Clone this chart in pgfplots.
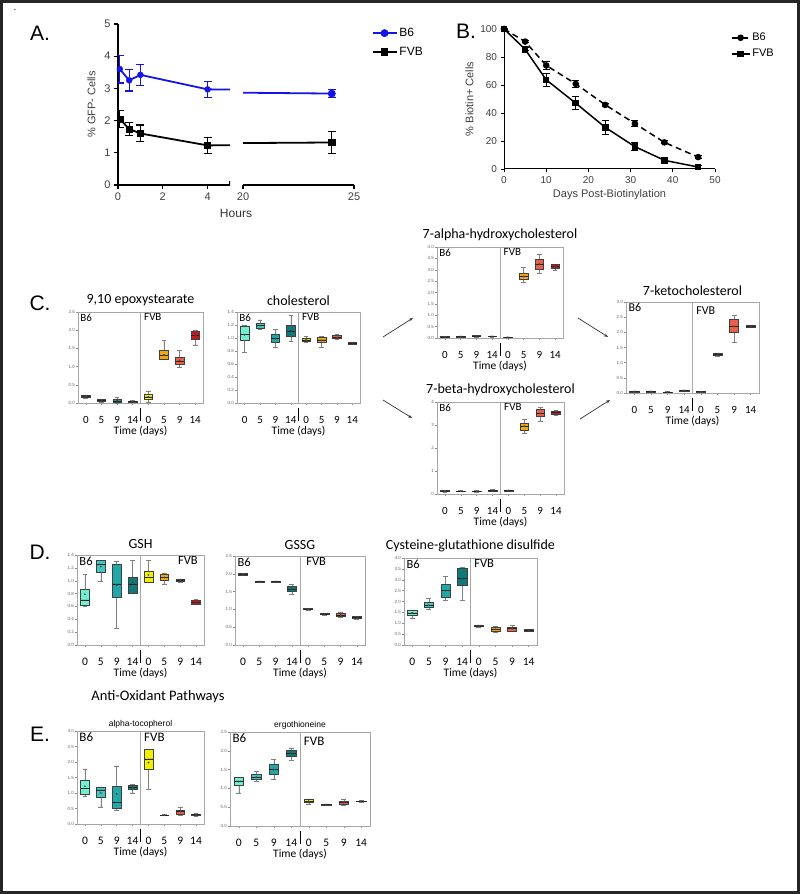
\documentclass[border=0pt]{standalone}
\usepackage{pgfplots}
\pgfplotsset{compat=1.18}
\usepgfplotslibrary{statistics}
\usetikzlibrary{arrows.meta}
\usepackage{fontspec}
\setmainfont{Liberation Sans}
\newfontfamily\calib{Carlito}
\newfontfamily\arial{Liberation Sans}
\newcommand\fs[1]{\fontsize{#1}{#1}\selectfont}
\definecolor{cA}{HTML}{70F0D0}
\definecolor{cB}{HTML}{40C8C0}
\definecolor{cC}{HTML}{20A8A8}
\definecolor{cD}{HTML}{107878}
\definecolor{fA}{HTML}{F0F000}
\definecolor{fB}{HTML}{F0A810}
\definecolor{fC}{HTML}{E86048}
\definecolor{fD}{HTML}{C81818}
\definecolor{bblue}{HTML}{1414E6}
\newcommand{\bx}[8]{\addplot[draw=black!75, fill=#2, line width=0.5pt, boxplot prepared={draw direction=y, draw position=#1, lower whisker=#3, lower quartile=#4, median=#5, upper quartile=#6, upper whisker=#7, average=#8}] coordinates {};}
\newcommand{\grp}[1]{%
  \node[anchor=north west, font=\calib\fs{#1}, inner sep=1pt] at (rel axis cs:0.01,0.995) {B6};
  \draw[black!35, line width=0.6pt] (rel axis cs:0.5,0) -- (rel axis cs:0.5,1);
  \draw[black, line width=0.5pt] ([yshift=-5pt]rel axis cs:0.5,0) -- ([yshift=-18pt]rel axis cs:0.5,0);}
\pgfplotsset{
 bp/.style={
   scale only axis, anchor=south west, xmin=0.5, xmax=8.5, ymin=0,
   xtick={1,...,8}, xticklabels={0,5,9,14,0,5,9,14},
   axis line style={black!35, line width=0.6pt},
   xtick pos=left, ytick pos=left, tick align=outside,
   major tick length=2pt, tick style={black!45, line width=0.4pt},
   yticklabel style={font=\arial\fs{4.5}, text=black!60, inner sep=1pt, /pgf/number format/.cd, fixed, fixed zerofill, precision=1, assume math mode=true},
   xticklabel shift=10pt,
   xticklabel style={font=\calib\fs{11.5}, inner sep=1pt},
   xlabel={Time (days)}, xlabel style={font=\calib\fs{11.5}, inner sep=0pt, yshift=-1pt},
   title style={font=\calib\fs{14}, inner sep=2pt, yshift=-2pt},
   boxplot/draw direction=y,
   boxplot/box extend=0.55, boxplot/whisker extend=0.3,
   boxplot/every whisker/.style={black!50, line width=0.4pt},
   boxplot/every median/.style={black!85, line width=0.6pt},
   boxplot/every average/.style={/tikz/mark=*, /tikz/mark size=0.6pt, /tikz/mark options={draw=black, fill=black}},
   clip=false,
 }
}
\begin{document}
\begin{tikzpicture}
\useasboundingbox (0pt,0pt) rectangle (800pt,894pt);
\fill[white] (0pt,0pt) rectangle (800pt,894pt);
\draw[black!85, line width=2.5pt] (1.5pt,1.5pt) rectangle (798.5pt,892.5pt);

% ---------------- Panel A ----------------
\node[font=\arial\fs{21}] at (40pt,861pt) {A.};
\begin{axis}[at={(118pt,709pt)}, anchor=south west, scale only axis, width=112pt, height=161pt,
  xmin=0, xmax=5, ymin=0, ymax=5, axis x line*=bottom, axis y line*=left,
  axis line style={line width=1.6pt}, xtick={0,2,4}, ytick={0,1,2,3,4,5},
  tick align=outside, major tick length=4pt, tick style={line width=1.2pt, black},
  ticklabel style={font=\arial\fs{11}, text=black!75},
  /pgf/number format/assume math mode=true,
  ylabel={\% GFP- Cells}, ylabel style={font=\arial\fs{11}, text=black!75, yshift=2pt}]
\addplot[bblue, line width=1.8pt, forget plot] coordinates {(0.08,3.6)(0.5,3.25)(1,3.42)(4,2.97)(24,2.84)};
\addplot[black, line width=1.8pt, forget plot] coordinates {(0.08,2.05)(0.5,1.74)(1,1.6)(4,1.23)(24,1.32)};
\addplot[bblue, only marks, mark=*, mark size=3pt, error bars/.cd, y dir=both, y explicit, error bar style={line width=1.2pt}, error mark options={rotate=90, mark size=4pt, line width=1.2pt}] coordinates {(0.08,3.6) +- (0,0.43) (0.5,3.25) +- (0,0.33) (1,3.42) +- (0,0.33) (4,2.97) +- (0,0.25)};
\addplot[black, only marks, mark=square*, mark size=3pt, error bars/.cd, y dir=both, y explicit, error bar style={line width=1.2pt}, error mark options={rotate=90, mark size=4pt, line width=1.2pt}] coordinates {(0.08,2.05) +- (0,0.26) (0.5,1.74) +- (0,0.2) (1,1.6) +- (0,0.26) (4,1.23) +- (0,0.25)};
\draw[line width=1.6pt] (axis cs:5,0) ++(0,-4pt) -- ++(0,8pt);
\end{axis}
\begin{axis}[at={(243pt,709pt)}, anchor=south west, scale only axis, width=111pt, height=161pt,
  xmin=20, xmax=25, ymin=0, ymax=5, axis x line*=bottom, axis y line=none, ytick=\empty,
  axis line style={line width=1.6pt}, xtick={20,25},
  tick align=outside, major tick length=4pt, tick style={line width=1.2pt, black},
  ticklabel style={font=\arial\fs{11}, text=black!75},
  /pgf/number format/assume math mode=true,
  legend style={at={(1.13,1.0)}, anchor=north west, draw=none, fill=none, font=\arial\fs{12}, row sep=5pt},
  legend cell align=left,
  legend image code/.code={\draw[mark repeat=2,mark phase=2,#1] plot coordinates {(0pt,0pt)(12pt,0pt)(24pt,0pt)};}]
\addplot[bblue, line width=1.8pt, forget plot] coordinates {(0.08,3.6)(0.5,3.25)(1,3.42)(4,2.97)(24,2.84)};
\addplot[black, line width=1.8pt, forget plot] coordinates {(0.08,2.05)(0.5,1.74)(1,1.6)(4,1.23)(24,1.32)};
\addplot[bblue, line width=1.8pt, mark=*, mark size=3pt, error bars/.cd, y dir=both, y explicit, error bar style={line width=1.2pt}, error mark options={rotate=90, mark size=4pt, line width=1.2pt}] coordinates {(24,2.84) +- (0,0.13)};
\addlegendentry{B6}
\addplot[black, line width=1.8pt, mark=square*, mark size=3pt, error bars/.cd, y dir=both, y explicit, error bar style={line width=1.2pt}, error mark options={rotate=90, mark size=4pt, line width=1.2pt}] coordinates {(24,1.32) +- (0,0.33)};
\addlegendentry{FVB}
\draw[line width=1.6pt] (axis cs:20,0) ++(0,-4pt) -- ++(0,8pt);
\end{axis}
\node[font=\arial\fs{12}, text=black!80] at (236pt,681pt) {Hours};

% ---------------- Panel B ----------------
\node[font=\arial\fs{21}] at (466pt,863pt) {B.};
\begin{axis}[at={(504pt,725pt)}, anchor=south west, scale only axis, width=211pt, height=140pt,
  xmin=0, xmax=50, ymin=0, ymax=100, axis x line*=bottom, axis y line*=left,
  axis line style={line width=1pt}, xtick={0,10,...,50}, ytick={0,20,...,100},
  tick align=outside, major tick length=3.5pt, tick style={line width=0.8pt, black},
  ticklabel style={font=\arial\fs{10}, text=black!75},
  /pgf/number format/assume math mode=true,
  xlabel={Days Post-Biotinylation}, ylabel={\% Biotin+ Cells},
  label style={font=\arial\fs{11}, text=black!75},
  clip=false,
  legend style={at={(1.06,1.0)}, anchor=north west, draw=none, fill=none, font=\arial\fs{11}, row sep=3pt},
  legend cell align=left,
  legend image code/.code={\draw[mark repeat=2,mark phase=2,#1] plot coordinates {(0pt,0pt)(9pt,0pt)(18pt,0pt)};}]
\addplot[black, line width=1.5pt, dash pattern=on 6pt off 4pt, mark=*, mark size=2.5pt, mark options={solid}, error bars/.cd, y dir=both, y explicit, error bar style={line width=1pt, solid}, error mark options={rotate=90, mark size=3.5pt, line width=1pt, solid}] coordinates {(0,100) +- (0,0.5) (5,91) +- (0,1) (10,74) +- (0,3) (17,60.8) +- (0,2.5) (24,45.8) +- (0,1) (31,32.5) +- (0,2) (38,19) +- (0,1) (46,8.5) +- (0,1)};
\addlegendentry{B6}
\addplot[black, line width=1.5pt, mark=square*, mark size=2.5pt, error bars/.cd, y dir=both, y explicit, error bar style={line width=1pt}, error mark options={rotate=90, mark size=3.5pt, line width=1pt}] coordinates {(0,100) +- (0,0.5) (5,85.5) +- (0,1) (10,63.7) +- (0,4.5) (17,47) +- (0,4.7) (24,29.7) +- (0,5) (31,16) +- (0,3) (38,6.2) +- (0,1) (46,1.4) +- (0,1)};
\addlegendentry{FVB}
\end{axis}

% ---------------- Panel C ----------------
\node[font=\arial\fs{21}] at (40pt,591pt) {C.};
\begin{axis}[bp, at={(78pt,491pt)}, width=125pt, height=91pt, ymax=2.5, ytick={0,0.5,...,2.5}, title={9,10 epoxystearate}, xticklabel style={font=\calib\fs{11}}]
\bx{1}{cA}{0.12}{0.15}{0.18}{0.20}{0.22}{0.18}
\bx{2}{cB}{0.03}{0.05}{0.07}{0.09}{0.10}{0.07}
\bx{3}{cC}{0.00}{0.03}{0.06}{0.09}{0.16}{0.07}
\bx{4}{cD}{0.01}{0.02}{0.04}{0.06}{0.07}{0.04}
\bx{5}{fA}{0.03}{0.10}{0.17}{0.25}{0.33}{0.17}
\bx{6}{fB}{1.20}{1.20}{1.30}{1.44}{1.72}{1.32}
\bx{7}{fC}{0.98}{1.06}{1.15}{1.25}{1.45}{1.17}
\bx{8}{fD}{1.60}{1.75}{1.85}{1.96}{2.00}{1.86}
\grp{11}
\node[anchor=north west, font=\calib\fs{11}, inner sep=1pt] at (rel axis cs:0.52,0.995) {FVB};
\end{axis}
\begin{axis}[bp, at={(237pt,491pt)}, width=123pt, height=91pt, ymax=1.4, ytick={0,0.2,...,1.4}, title={cholesterol}, xticklabel style={font=\calib\fs{11}}]
\bx{1}{cA}{0.78}{0.97}{1.05}{1.18}{1.20}{1.05}
\bx{2}{cB}{1.13}{1.15}{1.19}{1.22}{1.28}{1.19}
\bx{3}{cC}{0.86}{0.93}{0.99}{1.06}{1.13}{0.99}
\bx{4}{cD}{0.95}{1.02}{1.10}{1.20}{1.35}{1.11}
\bx{5}{fA}{0.94}{0.95}{0.97}{1.00}{1.03}{0.97}
\bx{6}{fB}{0.86}{0.93}{0.97}{1.01}{1.02}{0.96}
\bx{7}{fC}{0.98}{0.99}{1.01}{1.04}{1.06}{1.01}
\bx{8}{fD}{0.90}{0.91}{0.92}{0.93}{0.94}{0.92}
\grp{11}
\node[anchor=north west, font=\calib\fs{11}, inner sep=1pt] at (rel axis cs:0.52,0.995) {FVB};
\end{axis}
\begin{axis}[bp, at={(437pt,556pt)}, width=126pt, height=91pt, ymax=4, ytick={0,0.5,...,4}, title={7-alpha-hydroxycholesterol}, xticklabel style={font=\calib\fs{11}}]
\bx{1}{cA}{0.03}{0.04}{0.05}{0.07}{0.08}{0.05}
\bx{2}{cB}{0.04}{0.05}{0.06}{0.07}{0.09}{0.06}
\bx{3}{cC}{0.05}{0.07}{0.08}{0.10}{0.11}{0.08}
\bx{4}{cD}{0.04}{0.06}{0.07}{0.09}{0.10}{0.07}
\bx{5}{fA}{0.01}{0.02}{0.03}{0.04}{0.05}{0.03}
\bx{6}{fB}{2.46}{2.58}{2.70}{2.83}{3.10}{2.70}
\bx{7}{fC}{2.85}{3.03}{3.25}{3.46}{3.70}{3.25}
\bx{8}{fD}{3.00}{3.06}{3.13}{3.22}{3.25}{3.13}
\grp{11}
\node[anchor=north west, font=\calib\fs{11}, inner sep=1pt] at (rel axis cs:0.52,0.995) {FVB};
\end{axis}
\begin{axis}[bp, at={(437pt,400pt)}, width=127pt, height=92pt, ymax=4, ytick={0,1,2,3,4}, title={7-beta-hydroxycholesterol}, xticklabel style={font=\calib\fs{11}}, yticklabel style={/pgf/number format/precision=0}]
\bx{1}{cA}{0.08}{0.10}{0.12}{0.15}{0.16}{0.12}
\bx{2}{cB}{0.10}{0.11}{0.12}{0.13}{0.15}{0.12}
\bx{3}{cC}{0.09}{0.10}{0.12}{0.14}{0.15}{0.12}
\bx{4}{cD}{0.10}{0.13}{0.15}{0.18}{0.20}{0.15}
\bx{5}{fA}{0.12}{0.14}{0.15}{0.17}{0.18}{0.15}
\bx{6}{fB}{2.65}{2.78}{2.95}{3.08}{3.25}{2.95}
\bx{7}{fC}{3.15}{3.37}{3.50}{3.69}{3.78}{3.50}
\bx{8}{fD}{3.42}{3.48}{3.55}{3.60}{3.65}{3.55}
\grp{11}
\node[anchor=north west, font=\calib\fs{11}, inner sep=1pt] at (rel axis cs:0.52,0.995) {FVB};
\end{axis}
\begin{axis}[bp, at={(626pt,501pt)}, width=133pt, height=91pt, ymax=3, ytick={0,0.5,...,3}, title={7-ketocholesterol}, xticklabel style={font=\calib\fs{11}}]
\bx{1}{cA}{0.03}{0.04}{0.05}{0.06}{0.07}{0.05}
\bx{2}{cB}{0.03}{0.04}{0.05}{0.06}{0.07}{0.05}
\bx{3}{cC}{0.01}{0.02}{0.03}{0.04}{0.05}{0.03}
\bx{4}{cD}{0.06}{0.07}{0.08}{0.09}{0.10}{0.08}
\bx{5}{fA}{0.02}{0.03}{0.04}{0.05}{0.06}{0.04}
\bx{6}{fB}{1.22}{1.25}{1.27}{1.30}{1.32}{1.27}
\bx{7}{fC}{1.68}{1.99}{2.20}{2.42}{2.55}{2.20}
\bx{8}{fD}{2.17}{2.18}{2.20}{2.22}{2.23}{2.20}
\grp{12}
\node[anchor=north west, font=\calib\fs{12}, inner sep=1pt] at (rel axis cs:0.52,0.96) {FVB};
\end{axis}
\draw[black!80, line width=0.7pt, -{Stealth[length=4pt]}] (383pt,557pt) -- (413pt,576pt);
\draw[black!80, line width=0.7pt, -{Stealth[length=4pt]}] (383pt,494pt) -- (412pt,476pt);
\draw[black!80, line width=0.7pt, -{Stealth[length=4pt]}] (578pt,576pt) -- (608pt,557pt);
\draw[black!80, line width=0.7pt, -{Stealth[length=4pt]}] (580pt,475pt) -- (610pt,494pt);

% ---------------- Panel D ----------------
\node[font=\arial\fs{21}] at (40pt,342pt) {D.};
\begin{axis}[bp, at={(77pt,249pt)}, width=127pt, height=90pt, ymax=1.4, ytick={0,0.2,...,1.4}, title={GSH}]
\bx{1}{cA}{0.60}{0.62}{0.70}{0.87}{1.10}{0.79}
\bx{2}{cB}{1.00}{1.13}{1.25}{1.32}{1.32}{1.22}
\bx{3}{cC}{0.26}{0.74}{0.95}{1.26}{1.30}{0.93}
\bx{4}{cD}{0.80}{0.80}{0.95}{1.06}{1.32}{0.98}
\bx{5}{fA}{0.97}{0.97}{1.05}{1.15}{1.32}{1.09}
\bx{6}{fB}{0.95}{1.00}{1.05}{1.10}{1.12}{1.05}
\bx{7}{fC}{0.98}{0.99}{1.00}{1.02}{1.03}{1.00}
\bx{8}{fD}{0.63}{0.64}{0.66}{0.69}{0.71}{0.66}
\grp{12.5}
\node[anchor=north east, font=\calib\fs{12.5}, inner sep=1pt] at (rel axis cs:0.96,0.995) {FVB};
\end{axis}
\begin{axis}[bp, at={(235pt,249pt)}, width=130pt, height=89pt, ymax=2.5, ytick={0,0.5,...,2.5}, title={GSSG}]
\bx{1}{cA}{1.96}{1.97}{1.99}{2.01}{2.02}{1.99}
\bx{2}{cB}{1.76}{1.77}{1.78}{1.79}{1.80}{1.78}
\bx{3}{cC}{1.76}{1.77}{1.78}{1.79}{1.80}{1.78}
\bx{4}{cD}{1.43}{1.50}{1.57}{1.65}{1.70}{1.57}
\bx{5}{fA}{0.99}{1.00}{1.01}{1.02}{1.03}{1.01}
\bx{6}{fB}{0.85}{0.86}{0.87}{0.88}{0.89}{0.87}
\bx{7}{fC}{0.78}{0.80}{0.84}{0.90}{0.93}{0.84}
\bx{8}{fD}{0.72}{0.75}{0.77}{0.80}{0.81}{0.77}
\grp{12.5}
\node[anchor=north west, font=\calib\fs{12.5}, inner sep=1pt] at (rel axis cs:0.54,0.995) {FVB};
\end{axis}
\begin{axis}[bp, at={(404pt,249pt)}, width=133pt, height=87pt, ymax=4, ytick={0,0.5,...,4}, title={Cysteine-glutathione disulfide}]
\bx{1}{cA}{1.25}{1.38}{1.48}{1.58}{1.62}{1.48}
\bx{2}{cB}{1.65}{1.72}{1.83}{1.95}{2.15}{1.83}
\bx{3}{cC}{2.05}{2.20}{2.50}{2.78}{3.15}{2.50}
\bx{4}{cD}{2.05}{2.75}{3.05}{3.55}{3.58}{3.05}
\bx{5}{fA}{0.83}{0.85}{0.88}{0.92}{0.93}{0.88}
\bx{6}{fB}{0.60}{0.62}{0.72}{0.80}{0.85}{0.72}
\bx{7}{fC}{0.62}{0.65}{0.75}{0.82}{0.90}{0.75}
\bx{8}{fD}{0.64}{0.65}{0.68}{0.72}{0.72}{0.68}
\grp{12.5}
\node[anchor=north west, font=\calib\fs{12.5}, inner sep=1pt] at (rel axis cs:0.52,0.995) {FVB};
\end{axis}

% ---------------- Panel E ----------------
\node[font=\calib\fs{14.5}] at (158pt,197pt) {Anti-Oxidant Pathways};
\node[font=\arial\fs{21}] at (40pt,160pt) {E.};
\begin{axis}[bp, at={(77pt,70pt)}, width=127pt, height=93pt, ymax=3, ytick={0,0.5,...,3}, title={alpha-tocopherol}, title style={font=\arial\fs{8.5}, yshift=-3pt}]
\bx{1}{cA}{0.90}{0.97}{1.15}{1.40}{1.78}{1.22}
\bx{2}{cB}{0.55}{0.86}{1.10}{1.20}{1.20}{1.00}
\bx{3}{cC}{0.45}{0.50}{0.70}{1.22}{1.88}{0.97}
\bx{4}{cD}{1.00}{1.12}{1.18}{1.25}{1.27}{1.18}
\bx{5}{fA}{1.12}{1.75}{2.10}{2.40}{2.40}{1.98}
\bx{6}{fB}{0.27}{0.27}{0.28}{0.29}{0.30}{0.28}
\bx{7}{fC}{0.28}{0.33}{0.40}{0.45}{0.55}{0.40}
\bx{8}{fD}{0.26}{0.27}{0.30}{0.33}{0.34}{0.30}
\grp{13}
\node[anchor=north west, font=\calib\fs{13}, inner sep=1pt] at (rel axis cs:0.52,0.995) {FVB};
\end{axis}
\begin{axis}[bp, at={(230pt,68pt)}, width=140pt, height=94pt, ymax=2.5, ytick={0,0.5,...,2.5}, title={ergothioneine}, title style={font=\arial\fs{8.5}, yshift=-3pt}]
\bx{1}{cA}{0.88}{1.09}{1.20}{1.30}{1.30}{1.18}
\bx{2}{cB}{1.18}{1.23}{1.30}{1.38}{1.45}{1.30}
\bx{3}{cC}{1.25}{1.38}{1.50}{1.63}{1.78}{1.50}
\bx{4}{cD}{1.75}{1.85}{1.93}{2.02}{2.08}{1.93}
\bx{5}{fA}{0.58}{0.62}{0.66}{0.70}{0.72}{0.66}
\bx{6}{fB}{0.55}{0.56}{0.57}{0.58}{0.59}{0.57}
\bx{7}{fC}{0.55}{0.57}{0.62}{0.67}{0.72}{0.62}
\bx{8}{fD}{0.64}{0.65}{0.66}{0.67}{0.68}{0.66}
\grp{13}
\node[anchor=north west, font=\calib\fs{13}, inner sep=1pt] at (rel axis cs:0.52,0.96) {FVB};
\end{axis}
\node[font=\arial\fs{10}] at (15pt,884pt) {.};
\end{tikzpicture}
\end{document}
